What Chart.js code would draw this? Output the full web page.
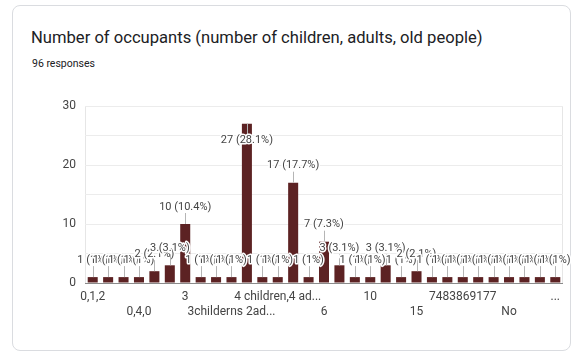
<!DOCTYPE html>
<html>
<head>
<meta charset="utf-8">
<script src="https://cdn.jsdelivr.net/npm/chart.js@4"></script>
<style>
  html, body { margin: 0; padding: 0; background: #fff; }
  body { width: 574px; height: 352px; position: relative; overflow: hidden; font-family: Roboto, Arial, sans-serif; }
  .card { position: absolute; left: 12px; top: 5px; width: 557px; height: 344px; border: 1px solid #dadce0; border-radius: 8px; }
  .title { position: absolute; left: 31px; top: 28px; font-size: 16.6px; color: #202124; white-space: nowrap; }
  .sub { position: absolute; left: 32px; top: 57px; font-size: 10.5px; color: #202124; }
  #wrap { position: absolute; left: 0; top: 0; width: 574px; height: 352px; }
</style>
</head>
<body>
<div class="card"></div>
<div class="title">Number of occupants (number of children, adults, old people)</div>
<div class="sub">96 responses</div>
<div id="wrap"><canvas id="myChart" width="574" height="352"></canvas></div>
<script>
// answers in the order the form shows them (names of hidden ticks can't be read)
var categories = ["0,1,2", "", "", "0,4,0", "", "", "3", "", "", "3childerns 2ad...",
  "", "", "4 children,4 ad...", "", "", "6", "", "", "10", "", "", "15", "", "",
  "7483869177", "", "", "No", "", "", "..."];
var counts = [1, 1, 1, 1, 2, 3, 10, 1, 1, 1,
  27, 1, 1, 17, 1, 7, 3, 1, 1, 3,
  1, 2, 1, 1, 1, 1, 1, 1, 1, 1, 1];
var yTicks = [0, 10, 20, 30];

var total = counts.reduce(function(a, b) { return a + b; }, 0);

function pctText(v) {
  var p = parseFloat((v / total * 100).toFixed(1));
  return v + " (" + p + "%)";
}

var barLabels = {
  id: "barLabels",
  beforeDraw: function(chart) {
    var a = chart.chartArea, c = chart.ctx;
    c.save();
    c.strokeStyle = "#e6e6e6";
    c.lineWidth = 1;
    c.beginPath();
    c.moveTo(Math.round(a.left) + 0.5, a.top);
    c.lineTo(Math.round(a.left) + 0.5, a.bottom);
    c.moveTo(Math.round(a.right) - 0.5, a.top);
    c.lineTo(Math.round(a.right) - 0.5, a.bottom);
    c.stroke();
    c.restore();
  },
  afterDatasetsDraw: function(chart) {
    var c = chart.ctx, a = chart.chartArea;
    var meta = chart.getDatasetMeta(0);
    c.save();
    c.font = "11px Roboto";
    c.textAlign = "center";
    c.textBaseline = "middle";
    meta.data.forEach(function(bar, i) {
      var v = counts[i];
      var ly = bar.y - 17, lineEnd = ly + 6;
      if (ly - 7 < a.top) { ly = bar.y + 17; lineEnd = ly - 6; }
      c.strokeStyle = "#b5b5b5";
      c.lineWidth = 1;
      c.beginPath();
      c.moveTo(Math.round(bar.x) + 0.5, bar.y);
      c.lineTo(Math.round(bar.x) + 0.5, lineEnd);
      c.stroke();
      var t = pctText(v);
      c.lineWidth = 3;
      c.strokeStyle = "#fff";
      c.lineJoin = "round";
      c.strokeText(t, bar.x, ly);
      c.fillStyle = "#444";
      c.fillText(t, bar.x, ly);
    });
    c.restore();
  }
};

new Chart("myChart", {
  type: "bar",
  data: {
    labels: categories,
    datasets: [{
      data: counts,
      backgroundColor: "#5c2223",
      barPercentage: 0.65,
      categoryPercentage: 1
    }]
  },
  options: {
    responsive: false,
    animation: false,
    layout: { padding: { left: 0, top: 106, right: 11, bottom: 29 } },
    plugins: { legend: { display: false }, tooltip: { enabled: false } },
    scales: {
      x: {
        grid: { display: false, drawTicks: false },
        border: { display: false },
        afterFit: function(s) { s.height = 40; },
        ticks: {
          autoSkip: false,
          maxRotation: 0,
          padding: 6,
          color: "#444",
          font: { family: "Roboto", size: 12, lineHeight: 1.25 },
          callback: function(val, i) {
            if (i % 3 !== 0) return "";
            var lab = categories[i];
            return (i / 3) % 2 === 0 ? [lab, ""] : ["", lab];
          }
        }
      },
      y: {
        min: 0,
        max: 30,
        afterFit: function(s) { s.width = 85; },
        border: { display: false },
        grid: {
          drawTicks: false,
          color: function(ctx) { return ctx.tick && ctx.tick.value === 0 ? "#8a8a8a" : "#ececec"; }
        },
        ticks: {
          stepSize: 5,
          padding: 9,
          color: "#444",
          font: { family: "Roboto", size: 12 },
          callback: function(v) { return yTicks.indexOf(v) >= 0 ? v : ""; }
        }
      }
    }
  },
  plugins: [barLabels]
});
</script>
</body>
</html>
